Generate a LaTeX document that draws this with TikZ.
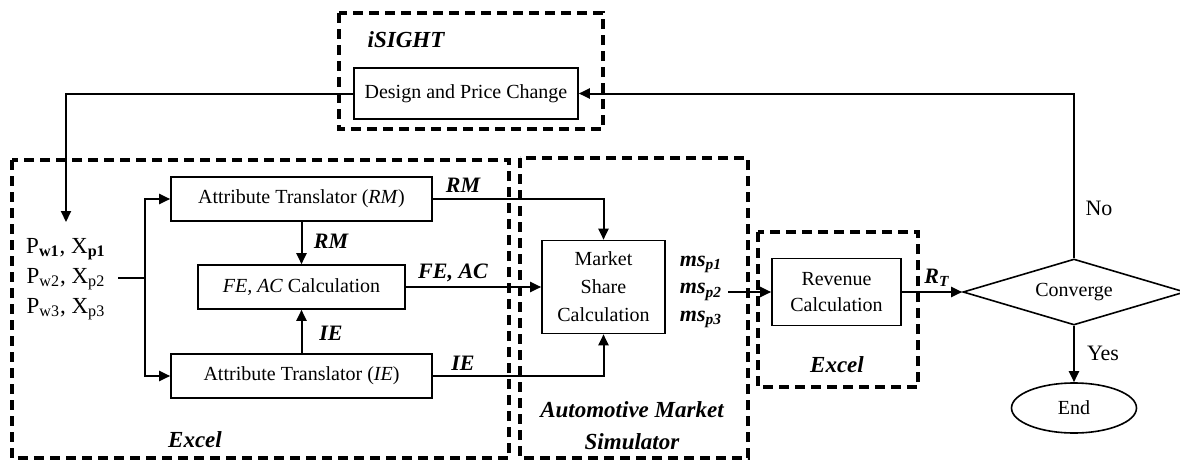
\documentclass[tikz,border=0pt]{standalone}
\usepackage{fontspec}
\setmainfont{Liberation Serif}
\usetikzlibrary{arrows.meta,shapes.geometric}

\begin{document}
\begin{tikzpicture}[x=0.5pt,y=-0.5pt,
  box/.style={draw, line width=0.8pt, inner sep=0pt, align=center,
    font=\fontsize{10}{12}\selectfont},
  group/.style={draw, line width=1.7pt, dash pattern=on 5pt off 3pt},
  grouplabel/.style={inner sep=0pt, align=center,
    font=\fontsize{11.5}{16}\selectfont\bfseries\itshape},
  flowlabel/.style={inner sep=0pt, font=\fontsize{11}{13.75}\selectfont\bfseries\itshape},
  plainlabel/.style={inner sep=0pt, font=\fontsize{11}{13}\selectfont},
  link/.style={line width=1pt},
  arrow/.style={link, -{Triangle[length=5.5pt,width=5pt]}},
]
\useasboundingbox[fill=white] (0,0) rectangle (1180,461);

% tool boundaries
\draw[group] (339,13) rectangle (603,129);
\draw[group] (12,160) rectangle (509,458);
\draw[group] (520,158) rectangle (748,458);
\draw[group] (758,232) rectangle (918,387);

\node[grouplabel] (isight) at (406,40) {iSIGHT};
\node[grouplabel] (excelA) at (195,440) {Excel};
\node[grouplabel] (amslabel) at (632,426) {Automotive Market\\Simulator};
\node[grouplabel] (excelB) at (837,365) {Excel};

% process blocks
\node[box, minimum width=112pt, minimum height=25.5pt] (design) at (466,93.5) {Design and Price Change};
\node[box, minimum width=130.5pt, minimum height=22pt] (rm) at (301.5,199) {Attribute Translator (\textit{RM})};
\node[box, minimum width=103.5pt, minimum height=22pt] (fe) at (301.5,287) {\textit{FE, AC} Calculation};
\node[box, minimum width=130.5pt, minimum height=22pt] (ie) at (301.5,376) {Attribute Translator (\textit{IE})};
\node[box, minimum width=61.5pt, minimum height=46.5pt, font=\fontsize{10}{14}\selectfont] (ms) at (603.5,287) {Market\\Share\\Calculation};
\node[box, minimum width=64.5pt, minimum height=33.5pt, font=\fontsize{10}{13}\selectfont] (rev) at (836.5,292) {Revenue\\Calculation};
\node[draw, diamond, line width=0.8pt, inner sep=0pt, aspect=3.4,
  minimum width=111pt, minimum height=33pt, font=\fontsize{10}{12}\selectfont] (conv) at (1074,292) {Converge};
\node[draw, ellipse, line width=0.8pt, inner sep=0pt,
  minimum width=62.5pt, minimum height=25pt, font=\fontsize{10}{12}\selectfont] (end) at (1074,408) {End};

% design variables and market shares
\node[inner sep=0pt, align=center, font=\fontsize{11.5}{15}\selectfont] (inp) at (66,279)
  {P\textsubscript{\textbf{w1}}, X\textsubscript{\textbf{p1}}\\
   P\textsubscript{w2}, X\textsubscript{p2}\\
   P\textsubscript{w3}, X\textsubscript{p3}};
\node[flowlabel, align=left] (msout) at (701,292)
  {\textit{ms}\textsubscript{\textit{p1}}\\
   \textit{ms}\textsubscript{\textit{p2}}\\
   \textit{ms}\textsubscript{\textit{p3}}};

% connectors
\coordinate (fbtip) at (66,222);
\coordinate (split) at (145,278);
\draw[arrow] (design.west) -| (fbtip);
\draw[link] ([xshift=6pt]inp.east |- split) -- (split);
\draw[arrow] (split) |- (rm.west);
\draw[arrow] (split) |- (ie.west);
\draw[arrow] (rm.south) -- (fe.north);
\draw[arrow] (ie.north) -- (fe.south);
\draw[arrow] (rm.east) -| (ms.north);
\draw[arrow] (fe.east) -- (fe.east -| ms.west);
\draw[arrow] (ie.east) -| (ms.south);
\draw[arrow] ([xshift=3pt]msout.east |- rev.west) -- (rev.west);
\draw[arrow] (rev.east) -- (conv.west);
\draw[arrow] (conv.north) |- (design.east);
\draw[arrow] (conv.south) -- (end.north);

% connector labels
\node[flowlabel] (lrmA) at (331,241) {RM};
\node[flowlabel] (lieA) at (331,333) {IE};
\node[flowlabel] (lrmB) at (463,185) {RM};
\node[flowlabel] (lieB) at (463,363) {IE};
\node[flowlabel] (lfeac) at (453,273) {FE, AC};
\node[flowlabel] (lrt) at (937,278) {R\textsubscript{T}};
\node[plainlabel] (lno) at (1099,208) {No};
\node[plainlabel] (lyes) at (1103,353) {Yes};
\end{tikzpicture}
\end{document}
